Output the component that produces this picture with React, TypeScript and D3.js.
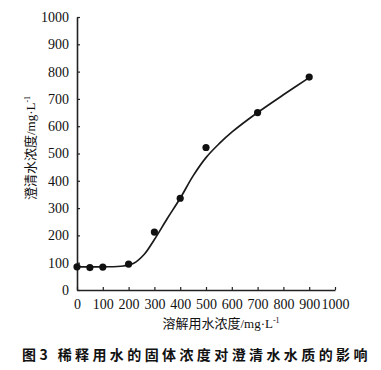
import React, { useEffect, useRef } from 'react';
import * as d3 from 'd3';

// measured points (溶解用水浓度 vs 澄清水浓度), mg/L
const dissolveConc = [0, 50, 100, 200, 300, 400, 500, 700, 900];
const clearConc = [85, 82, 84, 95, 212, 336, 522, 650, 780];

// smooth fitted curve
const curveX = [0, 100, 180, 220, 260, 300, 350, 400, 450, 500, 550, 600, 700, 800, 900];
const curveY = [85, 85, 88, 98, 130, 185, 262, 336, 418, 485, 535, 578, 650, 715, 778];

const xTicks = [0, 100, 200, 300, 400, 500, 600, 700, 800, 900, 1000];
const yTicks = [0, 100, 200, 300, 400, 500, 600, 700, 800, 900, 1000];

const W = 381;
const H = 370;
const serif = "'Liberation Serif', 'Times New Roman', Tinos, 'DejaVu Serif', 'Noto Sans CJK SC', serif";

const App: React.FC = () => {
    const svgRef = useRef<SVGSVGElement | null>(null);

    useEffect(() => {
        if (svgRef.current) draw();
    }, []);

    const draw = () => {
        const svg = d3.select(svgRef.current);
        svg.selectAll('*').remove();

        const x = d3.scaleLinear().domain([0, 1000]).range([77, 335]);
        const y = d3.scaleLinear().domain([0, 1000]).range([290, 17]);

        // axes
        const xAxis = svg
            .append('g')
            .attr('transform', `translate(0,${y(0)})`)
            .call(
                d3
                    .axisBottom(x)
                    .tickValues(xTicks)
                    .tickSizeInner(-3)
                    .tickSizeOuter(0)
                    .tickPadding(9)
                    .tickFormat((d) => String(d))
            );
        const yAxis = svg
            .append('g')
            .attr('transform', `translate(${x(0)},0)`)
            .call(
                d3
                    .axisLeft(y)
                    .tickValues(yTicks)
                    .tickSizeInner(-3)
                    .tickSizeOuter(0)
                    .tickPadding(8)
                    .tickFormat((d) => String(d))
            );
        [xAxis, yAxis].forEach((a) => {
            a.attr('font-family', null).attr('font-size', null);
            a.selectAll('path').attr('stroke', '#222').attr('stroke-width', 1.6);
            a.selectAll('line').attr('stroke', '#222').attr('stroke-width', 1.2);
            a.selectAll('text')
                .attr('fill', '#111')
                .attr('font-family', serif)
                .attr('font-size', 14);
        });

        // fitted curve
        const line = d3
            .line<number>()
            .x((_, i) => x(curveX[i]))
            .y((d) => y(d))
            .curve(d3.curveCatmullRom.alpha(0.5));
        svg.append('path')
            .datum(curveY)
            .attr('d', line)
            .attr('fill', 'none')
            .attr('stroke', '#1a1a1a')
            .attr('stroke-width', 1.7);

        // points
        svg.append('g')
            .selectAll('circle')
            .data(clearConc)
            .enter()
            .append('circle')
            .attr('cx', (_, i) => x(dissolveConc[i]))
            .attr('cy', (d) => y(d))
            .attr('r', 3.6)
            .attr('fill', '#111');

        // x label
        const xl = svg
            .append('text')
            .attr('x', 221)
            .attr('y', 328)
            .attr('text-anchor', 'middle')
            .attr('font-family', serif)
            .attr('font-size', 13)
            .attr('fill', '#111');
        xl.append('tspan').text('溶解用水浓度/mg·L');
        xl.append('tspan').attr('dy', -5).attr('font-size', 8).text('-1');

        // y label
        const yl = svg
            .append('text')
            .attr('transform', 'translate(35,148) rotate(-90)')
            .attr('text-anchor', 'middle')
            .attr('font-family', serif)
            .attr('font-size', 13)
            .attr('fill', '#111');
        yl.append('tspan').text('澄清水浓度/mg·L');
        yl.append('tspan').attr('dy', -5).attr('font-size', 8).text('-1');

        // caption
        svg.append('text')
            .attr('x', 22)
            .attr('y', 360)
            .attr('font-family', "'Noto Sans CJK SC', sans-serif")
            .attr('font-weight', 'bold')
            .attr('font-size', 14)
            .attr('letter-spacing', 3.4)
            .attr('fill', '#111')
            .text('图3  稀释用水的固体浓度对澄清水水质的影响');
    };

    return (
        <svg
            ref={svgRef}
            width={W}
            height={H}
            style={{ position: 'absolute', left: 0, top: 0, background: '#fff' }}
        ></svg>
    );
};

export default App;
